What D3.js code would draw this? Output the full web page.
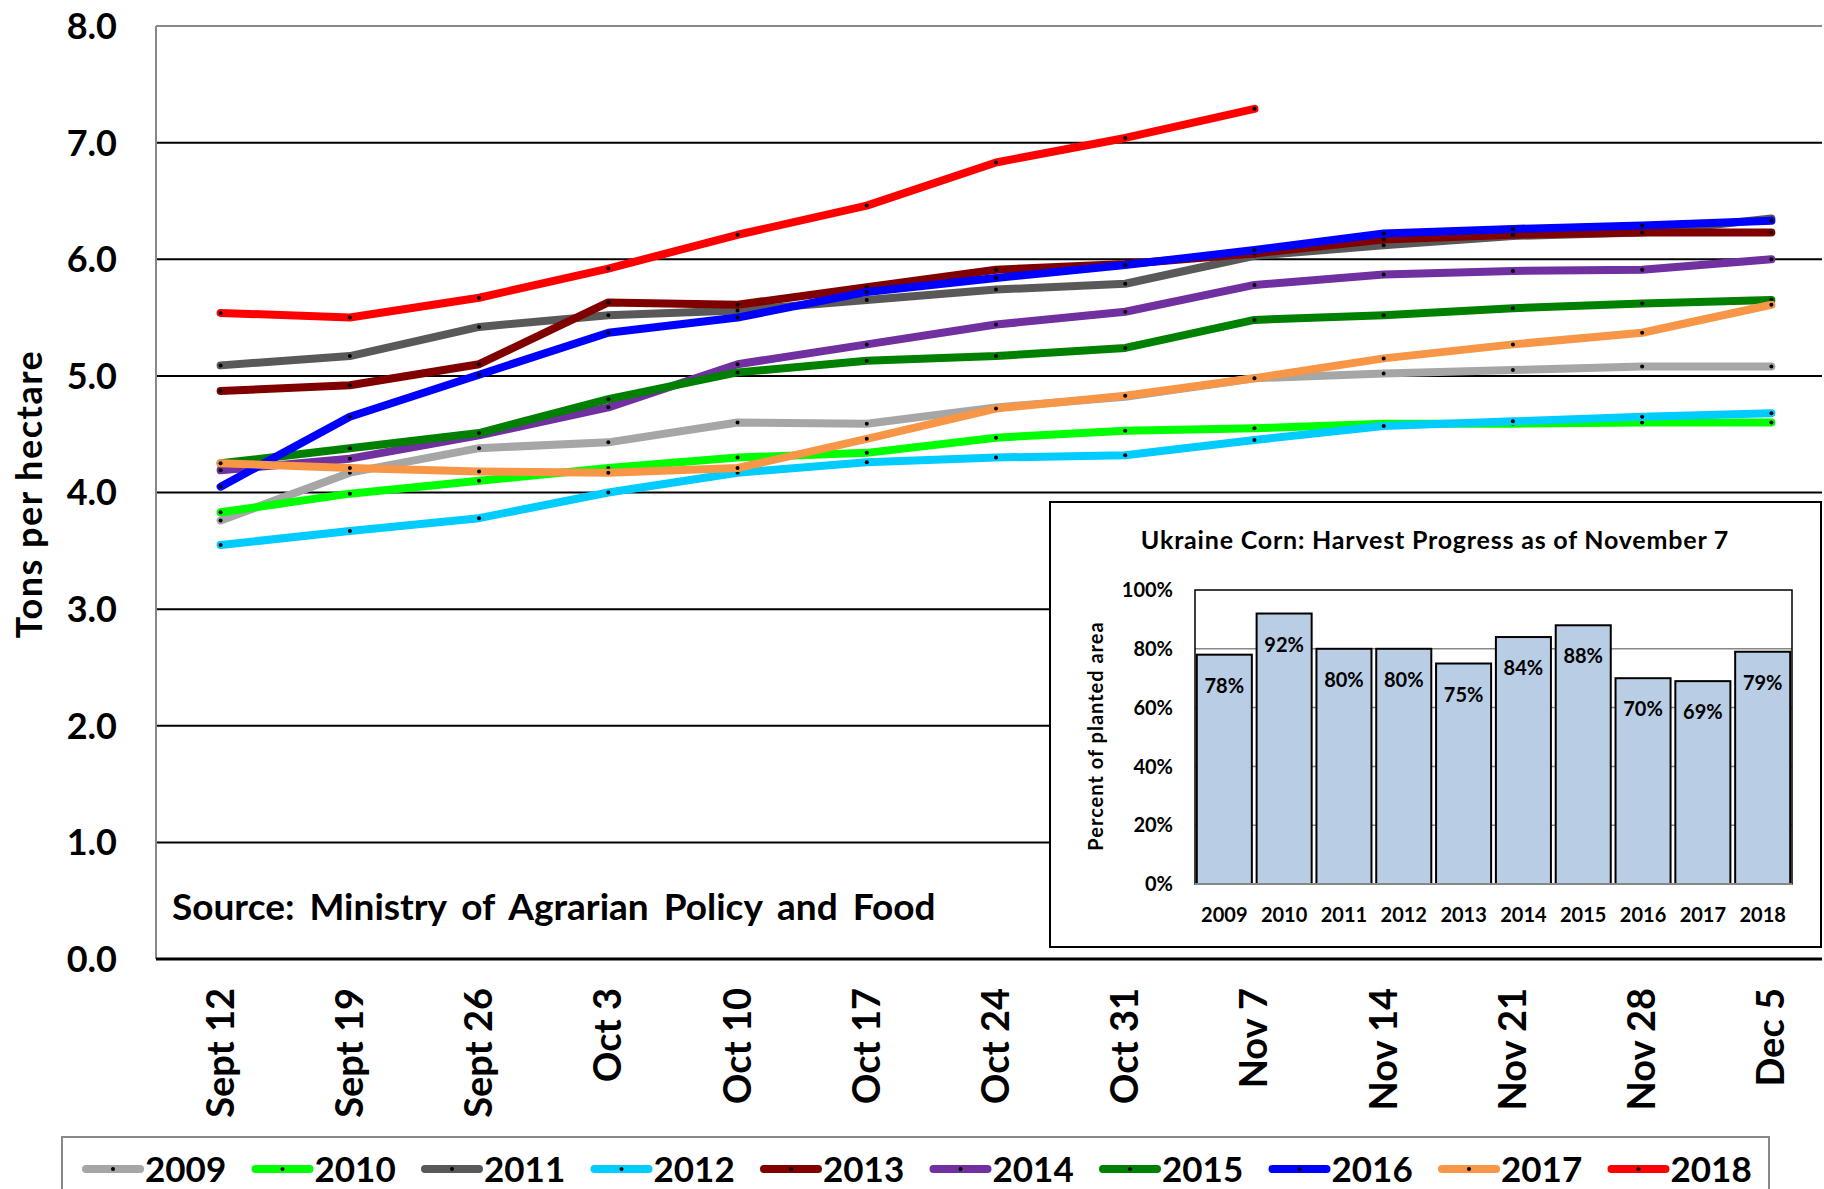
<!DOCTYPE html>
<html>
<head>
<meta charset="utf-8">
<script src="https://cdn.jsdelivr.net/npm/d3@7"></script>
<style>
  body { margin: 0; background: #fff; }
  svg { display: block; font-family: Lato, "Open Sans", sans-serif; font-weight: bold; }
</style>
</head>
<body>
<script>
// weekly yields, tons per hectare
var weeks = ["Sept 12", "Sept 19", "Sept 26", "Oct 3", "Oct 10", "Oct 17", "Oct 24",
             "Oct 31", "Nov 7", "Nov 14", "Nov 21", "Nov 28", "Dec 5"];
var years = ["2009", "2010", "2011", "2012", "2013", "2014", "2015", "2016", "2017", "2018"];
var colors = ["#a6a6a6", "#00ff00", "#595959", "#00ccff", "#800000",
              "#7030a0", "#008000", "#0000ff", "#f79646", "#ff0000"];

var y2009 = [3.76, 4.17, 4.38, 4.43, 4.60, 4.59, 4.73, 4.82, 4.98, 5.02, 5.05, 5.08, 5.08];
var y2010 = [3.83, 3.99, 4.10, 4.21, 4.30, 4.34, 4.47, 4.53, 4.55, 4.59, 4.59, 4.60, 4.60];
var y2011 = [5.09, 5.17, 5.42, 5.52, 5.56, 5.65, 5.74, 5.79, 6.03, 6.12, 6.20, 6.23, 6.35];
var y2012 = [3.55, 3.67, 3.78, 4.00, 4.17, 4.26, 4.30, 4.32, 4.45, 4.57, 4.61, 4.65, 4.68];
var y2013 = [4.87, 4.92, 5.10, 5.63, 5.61, 5.76, 5.91, 5.96, 6.05, 6.17, 6.21, 6.23, 6.23];
var y2014 = [4.19, 4.29, 4.49, 4.73, 5.10, 5.27, 5.44, 5.55, 5.78, 5.87, 5.90, 5.91, 6.00];
var y2015 = [4.25, 4.38, 4.51, 4.80, 5.03, 5.13, 5.17, 5.24, 5.48, 5.52, 5.58, 5.62, 5.65];
var y2016 = [4.05, 4.65, 5.01, 5.37, 5.50, 5.72, 5.84, 5.95, 6.08, 6.22, 6.26, 6.29, 6.33];
var y2017 = [4.25, 4.21, 4.18, 4.17, 4.21, 4.46, 4.72, 4.83, 4.98, 5.15, 5.27, 5.37, 5.61];
var y2018 = [5.54, 5.50, 5.67, 5.92, 6.21, 6.46, 6.83, 7.04, 7.29, null, null, null, null];
var series = [y2009, y2010, y2011, y2012, y2013, y2014, y2015, y2016, y2017, y2018];

var yTicks = [0, 1, 2, 3, 4, 5, 6, 7, 8];

// inset: harvest progress as of November 7
var progressYears = ["2009", "2010", "2011", "2012", "2013", "2014", "2015", "2016", "2017", "2018"];
var progress = [78, 92, 80, 80, 75, 84, 88, 70, 69, 79];
var progressTicks = [0, 20, 40, 60, 80, 100];

function drawChart() {
  var W = 1824, H = 1189;
  var svg = d3.select("body").append("svg").attr("width", W).attr("height", H);

  // plot runs past the right edge of the picture, as in the original
  var pl = 156, pr = 1836, pt = 26, pb = 959, edge = 1822;

  var x = d3.scalePoint().domain(weeks).range([pl, pr]).padding(0.5);
  var y = d3.scaleLinear().domain([0, 8]).range([pb, pt]);

  // gridlines
  svg.append("g").selectAll("line")
    .data(yTicks.filter(function (d) { return d > 0 && d < 8; }))
    .join("line")
    .attr("x1", pl).attr("x2", edge)
    .attr("y1", function (d) { return y(d); }).attr("y2", function (d) { return y(d); })
    .attr("stroke", "#000").attr("stroke-width", 2);

  // plot frame
  svg.append("line").attr("x1", pl).attr("x2", edge).attr("y1", pt).attr("y2", pt)
    .attr("stroke", "#888").attr("stroke-width", 2);
  svg.append("line").attr("x1", pl).attr("x2", pl).attr("y1", pt).attr("y2", pb)
    .attr("stroke", "#888").attr("stroke-width", 2);
  svg.append("line").attr("x1", pl).attr("x2", edge).attr("y1", pb).attr("y2", pb)
    .attr("stroke", "#000").attr("stroke-width", 3);

  // y tick labels
  svg.append("g").selectAll("text")
    .data(yTicks).join("text")
    .attr("x", 117).attr("y", function (d) { return y(d); })
    .attr("dy", "0.36em").attr("text-anchor", "end")
    .attr("font-size", 36)
    .text(function (d) { return d3.format(".1f")(d); });

  svg.append("text")
    .attr("transform", "translate(42,494) rotate(-90)")
    .attr("text-anchor", "middle").attr("font-size", 36).attr("letter-spacing", 1.5)
    .text("Tons per hectare");

  // x labels
  svg.append("g").selectAll("text")
    .data(weeks).join("text")
    .attr("transform", function (d) { return "translate(" + (x(d) + 13) + ",988) rotate(-90)"; })
    .attr("text-anchor", "end").attr("font-size", 38)
    .text(function (d) { return d; });

  svg.append("text")
    .attr("x", 172).attr("y", 920).attr("font-size", 37).attr("word-spacing", 6)
    .text("Source: Ministry of Agrarian Policy and Food");

  // inset chart
  var box = { x: 1050, y: 502, w: 771, h: 445 };
  svg.append("rect").attr("x", box.x).attr("y", box.y).attr("width", box.w).attr("height", box.h)
    .attr("fill", "#fff").attr("stroke", "#000").attr("stroke-width", 2);

  svg.append("text")
    .attr("x", 1435).attr("y", 549).attr("text-anchor", "middle").attr("font-size", 25)
    .attr("letter-spacing", 0.8)
    .text("Ukraine Corn: Harvest Progress as of November 7");

  var il = 1195, ir = 1792, it = 590, ib = 884;
  var bx = d3.scaleBand().domain(progressYears).range([il, ir]).paddingInner(0.08).paddingOuter(0.03);
  var by = d3.scaleLinear().domain([0, 100]).range([ib, it]);

  svg.append("g").selectAll("line")
    .data(progressTicks.filter(function (d) { return d > 0 && d < 100; }))
    .join("line")
    .attr("x1", il).attr("x2", ir)
    .attr("y1", function (d) { return by(d); }).attr("y2", function (d) { return by(d); })
    .attr("stroke", "#888").attr("stroke-width", 1.5);

  svg.append("rect").attr("x", il).attr("y", it).attr("width", ir - il).attr("height", ib - it)
    .attr("fill", "none").attr("stroke", "#000").attr("stroke-width", 1.5);

  svg.append("g").selectAll("rect")
    .data(progress).join("rect")
    .attr("x", function (d, i) { return bx(progressYears[i]); })
    .attr("y", function (d) { return by(d); })
    .attr("width", bx.bandwidth())
    .attr("height", function (d) { return ib - by(d); })
    .attr("fill", "#b9cde5").attr("stroke", "#000").attr("stroke-width", 2);

  svg.append("line").attr("x1", il).attr("x2", ir).attr("y1", ib).attr("y2", ib)
    .attr("stroke", "#888").attr("stroke-width", 2);

  svg.append("g").selectAll("text")
    .data(progress).join("text")
    .attr("x", function (d, i) { return bx(progressYears[i]) + bx.bandwidth() / 2; })
    .attr("y", function (d) { return by(d) + 38; })
    .attr("text-anchor", "middle").attr("font-size", 20)
    .text(function (d) { return d + "%"; });

  svg.append("g").selectAll("text")
    .data(progressTicks).join("text")
    .attr("x", 1173).attr("y", function (d) { return by(d); })
    .attr("dy", "0.36em").attr("text-anchor", "end").attr("font-size", 20)
    .text(function (d) { return d + "%"; });

  svg.append("g").selectAll("text")
    .data(progressYears).join("text")
    .attr("x", function (d) { return bx(d) + bx.bandwidth() / 2; })
    .attr("y", 922).attr("text-anchor", "middle").attr("font-size", 20)
    .text(function (d) { return d; });

  svg.append("text")
    .attr("transform", "translate(1103,736) rotate(-90)")
    .attr("text-anchor", "middle").attr("font-size", 20).attr("letter-spacing", 1)
    .text("Percent of planted area");

  // yield lines
  var line = d3.line()
    .defined(function (d) { return d != null; })
    .x(function (d, i) { return x(weeks[i]); })
    .y(function (d) { return y(d); });

  series.forEach(function (s, k) {
    svg.append("path")
      .attr("d", line(s))
      .attr("fill", "none").attr("stroke", colors[k]).attr("stroke-width", 8)
      .attr("stroke-linejoin", "round").attr("stroke-linecap", "round");
    svg.append("g").selectAll("circle")
      .data(s.map(function (v, i) { return [i, v]; }).filter(function (d) { return d[1] != null; }))
      .join("circle")
      .attr("cx", function (d) { return x(weeks[d[0]]); })
      .attr("cy", function (d) { return y(d[1]); })
      .attr("r", 2).attr("fill", "#000");
  });

  // legend
  var leg = svg.append("g");
  leg.append("rect").attr("x", 62).attr("y", 1137).attr("width", 1707).attr("height", 60)
    .attr("fill", "#fff").attr("stroke", "#888").attr("stroke-width", 2);
  years.forEach(function (yr, k) {
    var lx = 86 + k * 169.5;
    leg.append("line").attr("x1", lx).attr("x2", lx + 54).attr("y1", 1169).attr("y2", 1169)
      .attr("stroke", colors[k]).attr("stroke-width", 8).attr("stroke-linecap", "round");
    leg.append("circle").attr("cx", lx + 27).attr("cy", 1169).attr("r", 2).attr("fill", "#000");
    leg.append("text").attr("x", lx + 59).attr("y", 1169).attr("dy", "0.36em")
      .attr("font-size", 35).text(yr);
  });
}

document.addEventListener("DOMContentLoaded", function () {
  drawChart();
});
</script>
</body>
</html>
